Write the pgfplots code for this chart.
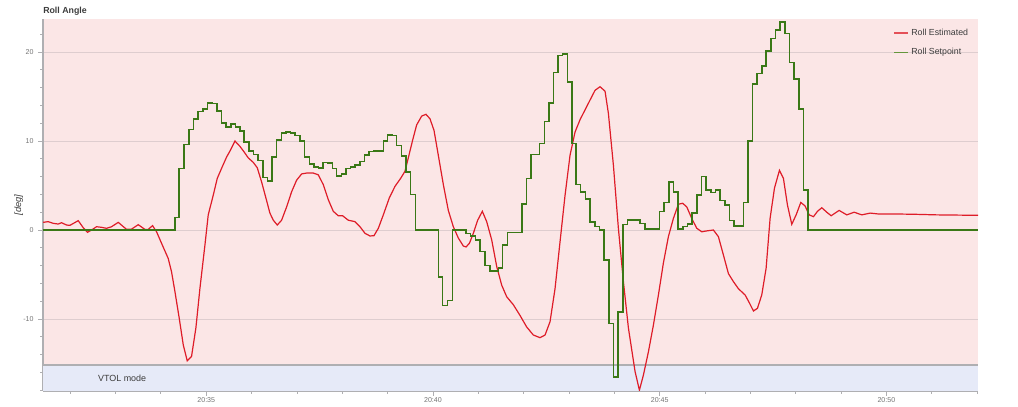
\documentclass[border=0pt]{standalone}
\usepackage{pgfplots}
\pgfplotsset{compat=1.18}
\usepackage{fontspec}
\setmainfont{Liberation Sans}
\definecolor{pinkbg}{RGB}{251,230,230}
\definecolor{bluebg}{RGB}{230,234,248}
\definecolor{rollred}{RGB}{222,28,40}
\definecolor{rollgreen}{RGB}{58,120,22}
\definecolor{legred}{RGB}{228,80,88}
\definecolor{leggreen}{RGB}{100,150,60}
\definecolor{gridc}{RGB}{222,205,207}
\definecolor{axisgray}{RGB}{175,175,178}
\definecolor{ticklab}{RGB}{115,115,115}
\definecolor{txt}{RGB}{60,60,60}
\begin{document}
\begin{tikzpicture}[x=0.75pt,y=0.75pt]
\path[use as bounding box] (-43,-16) rectangle (975,391);
\node[anchor=base west, font=\bfseries\fontsize{6.6}{8}\selectfont, text=txt, inner sep=0pt] at (0,377) {Roll Angle};
\begin{axis}[
  scale only axis, width=701.25pt, height=279pt,
  xmin=31.40, xmax=52.02, ymin=-18.09, ymax=23.71,
  axis lines*=left,
  axis line style={axisgray, line width=0.9pt},
  axis background/.style={fill=pinkbg},
  tick align=outside,
  major tick length=3.6pt, minor tick length=2.2pt,
  tick style={axisgray, line width=0.6pt},
  ytick={-10,0,10,20}, minor ytick={-18,-16,...,22},
  xtick={35,40,45,50}, xticklabels={20:35,20:40,20:45,20:50},
  minor xtick={32,33,...,52},
  ymajorgrids, major grid style={gridc, line width=0.7pt},
  /pgf/number format/assume math mode=true,
  ticklabel style={font=\fontsize{5.3}{6}\selectfont, text=ticklab},
  xticklabel style={yshift=2pt},
  ylabel={\itshape [deg]},
  ylabel style={at={(axis description cs:-0.026,0.5)}, anchor=center, font=\fontsize{7}{8}\selectfont, text=txt},
  legend style={at={(axis description cs:0.9925,0.981)}, anchor=north east, draw=none, fill=none,
    font=\fontsize{6.6}{8}\selectfont, text=txt, row sep=4.2pt, inner sep=0pt,
    /tikz/every even column/.append style={column sep=2pt}},
  legend cell align=left,
  clip=true,
]
\fill[bluebg] (axis cs:31.40,-18.09) rectangle (axis cs:52.02,-15.17);
\draw[axisgray, line width=1pt] (axis cs:31.40,-15.17) -- (axis cs:52.02,-15.17);
\node[anchor=base west, font=\fontsize{6.7}{8}\selectfont, text=txt, inner sep=0pt] at (axis cs:32.61,-17.04) {VTOL mode};

\addplot[rollred, line width=0.9pt, legend image code/.code={\draw[legred,line width=1.4pt] (0pt,0pt) -- (10pt,0pt);}] coordinates {
(31.405,0.86) (31.515,0.94) (31.625,0.75) (31.735,0.67) (31.809,0.82) (31.919,0.56) (31.993,0.52) (32.177,1.05) (32.287,0.26) (32.382,-0.26) (32.471,0) (32.581,0.37) (32.691,0.3) (32.802,0.19) (32.912,0.37) (33.059,0.86) (33.243,0.07) (33.353,0.1) (33.500,0.6) (33.647,0.07) (33.721,0.07) (33.816,0.49) (33.904,-0.19) (34.015,-1.5) (34.162,-3.2) (34.235,-4.7) (34.309,-6.9) (34.404,-9.9) (34.493,-12.9) (34.581,-14.7) (34.676,-14.2) (34.772,-11.0) (34.860,-6.6) (34.971,-1.7) (35.044,1.7) (35.154,3.9) (35.243,5.8) (35.353,7.1) (35.449,8.2) (35.537,9.0) (35.633,10.0) (35.743,9.4) (35.831,8.8) (35.927,8.1) (36.037,7.6) (36.125,7.0) (36.221,5.4) (36.316,3.6) (36.404,1.9) (36.479,1.1) (36.567,0.56) (36.662,1.1) (36.773,2.6) (36.883,4.3) (36.993,5.6) (37.104,6.3) (37.214,6.4) (37.361,6.4) (37.471,6.2) (37.581,5.1) (37.692,3.4) (37.802,2.1) (37.912,1.6) (38.008,1.6) (38.133,1.1) (38.280,0.94) (38.390,0.37) (38.501,-0.37) (38.611,-0.67) (38.699,-0.64) (38.795,0.19) (38.905,1.7) (39.037,3.6) (39.162,4.9) (39.287,5.8) (39.383,6.6) (39.456,8.1) (39.552,10.1) (39.640,11.8) (39.751,12.8) (39.846,13.0) (39.934,12.5) (40.023,11.2) (40.118,8.4) (40.229,5.1) (40.339,2.2) (40.449,0.37) (40.559,-0.9) (40.670,-1.8) (40.730,-1.9) (40.803,-1.5) (40.891,-0.37) (40.986,1.1) (41.089,2.1) (41.185,0.94) (41.295,-1.1) (41.406,-4.1) (41.516,-6.2) (41.626,-7.5) (41.773,-8.4) (41.920,-9.6) (42.067,-10.9) (42.214,-11.8) (42.361,-12.1) (42.472,-11.8) (42.582,-10.3) (42.692,-6.6) (42.803,-1.3) (42.913,3.9) (43.023,8.4) (43.133,11.0) (43.244,12.4) (43.354,13.5) (43.464,14.6) (43.575,15.7) (43.685,16.1) (43.795,15.6) (43.869,13.1) (43.979,7.3) (44.089,0.2) (44.200,-5.8) (44.310,-11.0) (44.457,-15.9) (44.553,-18.0) (44.641,-16.3) (44.751,-13.7) (44.861,-10.7) (44.972,-7.3) (45.082,-3.7) (45.192,-0.75) (45.302,1.3) (45.413,2.9) (45.508,3.0) (45.597,2.6) (45.707,1.3) (45.817,0.2) (45.928,-0.2) (46.038,-0.1) (46.185,0) (46.295,-0.75) (46.405,-2.8) (46.516,-4.9) (46.626,-5.8) (46.737,-6.6) (46.884,-7.3) (46.979,-8.2) (47.068,-9.1) (47.156,-8.8) (47.251,-7.3) (47.347,-4.3) (47.435,1.3) (47.531,4.7) (47.641,6.7) (47.729,5.8) (47.818,2.8) (47.913,0.64) (48.009,1.7) (48.112,3.1) (48.207,2.7) (48.296,1.7) (48.391,1.5) (48.480,2.1) (48.575,2.5) (48.685,2.0) (48.781,1.6) (48.957,2.2) (49.127,1.7) (49.288,2.0) (49.457,1.7) (49.641,1.9) (49.825,1.8) (50.009,1.8) (50.229,1.8) (50.671,1.76) (51.112,1.7) (52.02,1.65)
};
\addlegendentry{Roll Estimated}
\addplot[rollgreen, line width=1.2pt, const plot, legend image code/.code={\draw[leggreen,line width=1.4pt] (0pt,0pt) -- (10pt,0pt);}] coordinates {
(31.40,0) (34.309,1.4) (34.405,6.9) (34.515,9.6) (34.618,11.3) (34.721,12.5) (34.824,13.3) (34.927,13.6) (35.030,14.3) (35.132,14.2) (35.235,13.4) (35.338,12.0) (35.441,11.6) (35.544,11.9) (35.647,11.6) (35.750,11.1) (35.838,9.9) (35.941,8.9) (36.044,8.5) (36.147,7.8) (36.250,5.9) (36.353,5.5) (36.456,8.2) (36.552,10.1) (36.662,10.9) (36.758,11.0) (36.861,10.9) (36.956,10.6) (37.067,10.0) (37.170,8.2) (37.273,7.4) (37.376,7.1) (37.479,7.0) (37.581,7.6) (37.684,7.5) (37.787,6.9) (37.876,6.1) (37.979,6.3) (38.081,6.9) (38.184,7.1) (38.287,7.3) (38.390,7.7) (38.493,8.4) (38.596,8.8) (38.699,8.9) (38.905,10.0) (38.993,10.7) (39.096,10.6) (39.199,9.5) (39.302,8.3) (39.405,6.5) (39.508,4.0) (39.611,0) (40.118,-5.3) (40.214,-8.5) (40.317,-7.9) (40.428,0) (40.729,-0.4) (40.832,-0.7) (40.935,-1.1) (41.038,-2.4) (41.148,-4.0) (41.258,-4.6) (41.442,-4.3) (41.537,-1.7) (41.641,-0.3) (41.957,2.9) (42.067,5.8) (42.163,8.5) (42.347,9.7) (42.457,12.2) (42.560,14.3) (42.655,17.7) (42.751,19.6) (42.854,19.8) (42.964,16.6) (43.060,9.7) (43.155,5.1) (43.258,4.3) (43.361,3.5) (43.464,0.9) (43.575,0.4) (43.670,0) (43.773,-3.4) (43.876,-10.5) (43.979,-16.5) (44.082,-9.2) (44.185,0.6) (44.288,1.1) (44.568,0.75) (44.678,0.1) (44.994,2.1) (45.097,3.1) (45.200,5.4) (45.303,4.3) (45.406,0.1) (45.509,0.4) (45.612,0.7) (45.715,1.9) (45.818,3.9) (45.921,6.0) (46.024,4.5) (46.126,4.2) (46.229,4.5) (46.332,3.3) (46.435,2.8) (46.538,1.05) (46.641,0.45) (46.847,3.1) (46.943,10.0) (47.046,16.4) (47.148,17.6) (47.251,18.4) (47.347,20.1) (47.450,21.5) (47.553,22.5) (47.656,23.4) (47.759,22.1) (47.862,18.8) (47.965,17.0) (48.068,13.6) (48.170,4.5) (48.273,0) (52.02,0)
};
\addlegendentry{Roll Setpoint}
\end{axis}
\end{tikzpicture}
\end{document}
